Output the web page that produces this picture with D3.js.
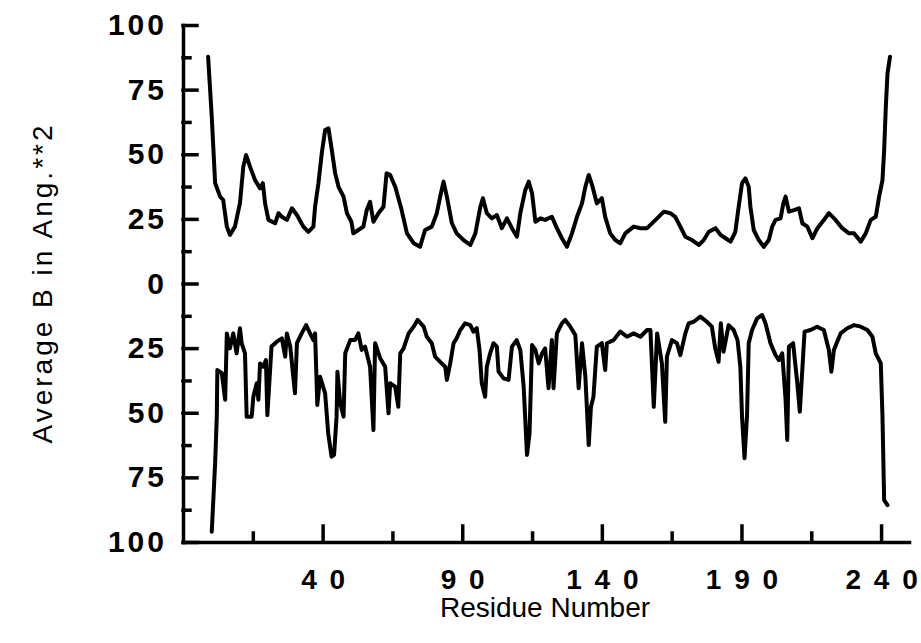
<!DOCTYPE html>
<html>
<head>
<meta charset="utf-8">
<script src="https://cdn.jsdelivr.net/npm/d3@7"></script>
<style>
  body { margin: 0; background: #fff; }
  svg { display: block; }
</style>
</head>
<body>
<script>
// residue numbers and average B, upper trace
var topResidue = [-1.0,0.3,1.5,3.3,4.4,5.7,6.8,8.6,10.4,11.6,12.6,14,15.8,17.6,18.6,19.4,20.6,23,24.2,25.4,27.2,29,30.8,33.1,34.9,36.7,37.3,38.5,39.7,40.9,42.1,43.3,44.5,45.7,47.5,48.7,50.3,51,52.8,54.6,55.8,57,58.2,60,61.8,62.9,64.2,66,68.3,70.2,72.6,74.9,
  76.7,79.1,80.9,82.1,83.3,84.5,86.3,88,90.5,92.9,94.7,96.5,97.4,98.8,100.6,102.4,104.2,106,107.8,109.6,110.8,112.6,113.8,115,116.2,118,119.7,122.1,123.9,125.7,127.5,129.3,131.1,132.9,134.1,135.3,136.5,138.2,140,141.2,143,144.8,146.6,148.4,151.4,153.8,156.2,
  159.8,162.2,164.5,166.3,168.1,169.9,172.3,174.7,176.5,178.3,180.7,182.5,184.3,186.1,187.8,189,190.2,191.4,192.6,193.2,194.4,196.2,198,199.8,201,202.2,204,205,205.8,207,208.8,210.6,211.8,213.6,215.4,217.2,219.5,221.3,223.7,226.1,228.5,230.3,232.7,234.5,236.3,238.1,239.3,240.5,241.1,241.7,242.3,243.2];
var topB = [87.7,64.5,38.9,33.6,32.3,22.0,18.8,22,31.1,45.2,49.7,45.2,40,36.8,38.8,31,24.6,23.3,27.2,25.8,24.6,29.1,26.5,22,20,22,29.7,38.8,50.4,59.4,60,51.6,42.6,37.4,33.6,27.2,23.9,19.4,20.7,22,28.4,31.6,23.9,27.2,29.7,42.6,42,37.4,28.4,19.4,15.6,14.2,
  20.7,22,27.2,33.6,39.4,33.6,23.3,19.4,16.8,14.9,19.4,29.7,33,27.2,25.2,26.5,21.4,25.2,21.4,18.1,27.2,36.2,39.4,34.9,23.9,25.2,24.6,25.8,21.4,17.5,14.2,19.4,25.8,31,37.4,42,38.1,31,33,25.8,19.4,16.8,15.6,19.4,22,21.4,21.4,
  25.2,27.8,27.2,25.8,22,18.1,16.8,14.9,16.8,20,21.4,18.8,17.5,16.2,20,29.7,38.8,40.7,37.4,29.7,20.7,16.8,14.2,16.8,22,24.6,25.2,31,33.6,27.8,28.4,29.1,23.3,22,17.5,21.4,24.6,27.2,24.6,21.4,19.4,19.4,16.2,19.4,24.6,25.8,33.6,40,51.6,68.4,81.3,87.7];

// residue numbers and average B, lower trace (drawn downward)
var bottomResidue = [0.3,1.5,2.1,2.3,3.9,5.1,5.7,6.8,8,9.2,10.4,11,12.2,12.8,14.6,15.2,16.4,17,17.6,18.8,19.7,20.2,20.9,21.7,23.6,25.4,26.6,27.2,28.4,30.1,30.8,32.5,34.1,35.5,36.7,37.3,38.1,39.1,40.9,42,43.2,44.1,45,45.3,46.3,47.5,48.1,49.9,51.6,52.8,54,55.2,57,58.2,58.8,60.6,62.4,63.6,64.2,66,67.1,67.8,69,70.8,72.6,74,76.2,
  77.3,79.1,80.3,82.1,83.9,84.5,85.7,86.9,88,89.3,91,92.9,94,95.2,96.2,97,98.2,98.8,100,101.2,102.4,103,104.8,106.6,107.8,109.5,110.8,112,113.2,114.1,115,116.2,117.4,118.6,119.7,120.9,122.1,122.7,123.9,125.7,126.9,128.7,130.5,131.7,132.9,134.1,135.3,136.1,137,138.2,140,141.2,141.8,144.2,146.6,149,151.4,153.8,156.2,
  157.4,158.6,159.8,161.5,162.7,163.3,165.1,166.9,168.1,169.9,171.1,172.9,175.3,177.6,179.4,180.6,181.8,182.6,183.6,185.4,187.2,188.6,189.6,190.2,191.1,192,192.6,193.8,195.6,197.4,198.6,200.4,202.2,203.4,204.6,205.8,206.4,207,208.5,210,210.9,212.1,212.6,214.7,217.1,219.5,221.3,222.2,223.1,225.5,227.9,230.3,232.7,235.1,236.9,238.1,239.9,240.5,241.1,242.3];
var bottomB = [96,69.6,51.5,33.5,34.7,45,19.3,25.1,19.3,27,17.3,23.1,27,51.5,51.5,43.8,38.6,45,30.9,32.2,29.6,50.9,38.6,24.4,22.5,21.2,28.3,19.3,24.4,42.5,23.1,19.3,16.1,19.3,21.9,19.3,47,36.1,42.5,57.9,67,66.3,51.5,34.1,46.3,51.5,27,21.9,21.9,19.3,25.7,24.4,32.2,56.7,23.1,28.9,32.2,50.2,38.6,39.9,47.7,27,25.1,19.3,16.7,14.1,16.7,
  20.6,23.1,28.3,30.3,32.2,37.3,30.9,23.1,21.2,18,15.4,16.1,18.6,17.3,25.7,38.6,43.8,32.2,27,23.1,24.4,34.1,36.7,37.3,24.4,21.9,25.7,39.9,66.3,57.9,23.8,25.7,30.9,27,25.1,40.5,21.9,40.5,19.3,15.4,14.1,16.7,19.9,40.5,23.1,36.1,62.5,47.7,43.8,24.4,23.1,33.5,23.1,21.9,18.6,20.6,19.3,20.6,18,
  18,47.7,19.3,30.9,53.5,28.3,21.9,23.1,27.7,19.3,15.4,14.8,12.8,14.8,16.7,25.1,30.3,15.4,26.4,16.1,18,21.9,32.2,51.5,67.6,50.9,23.1,18,13.5,12.2,15.4,23.1,27.7,29.6,27,45,60.5,24.4,23.1,38.6,49.6,27.7,18.6,18,16.7,18,25.7,34.1,25.7,19.3,17.3,16.1,16.7,18,20.6,27,30.9,51.5,83.8,85.7];

// tick values
var xMajor = [40, 90, 140, 190, 240];
var xMinor = [15, 65, 115, 165, 215];
var yMajor = [-100, -75, -50, -25, 0, 25, 50, 75, 100];
var yMinor = [-87.5, -62.5, -37.5, -12.5, 12.5, 37.5, 62.5, 87.5];

var width = 921, height = 643;
var margin = {top: 25, right: 12, bottom: 101, left: 183};
var font = "'Liberation Sans', Arial, Helvetica, sans-serif";

var svg = d3.select("body").append("svg")
    .attr("width", width)
    .attr("height", height);

var x = d3.scaleLinear()
    .domain([-10, 250])
    .range([margin.left, width - margin.right]);

// lower half is plotted as negative values, labels show the magnitude
var y = d3.scaleLinear()
    .domain([-100, 100])
    .range([height - margin.bottom, margin.top]);

var ink = "#000";

// y axis, ticks pointing inward
var yAxis = svg.append("g")
    .attr("transform", "translate(" + margin.left + ",0)")
    .call(d3.axisLeft(y)
      .tickValues(yMajor)
      .tickSize(-14)
      .tickSizeOuter(0)
      .tickPadding(16)
      .tickFormat(function(d) { return Math.abs(d); }));

svg.append("g")
    .attr("transform", "translate(" + margin.left + ",0)")
    .call(d3.axisLeft(y).tickValues(yMinor).tickSize(-7).tickFormat(""))
    .select(".domain").remove();

// x axis, digits spread apart like "1 4 0"
var xAxis = svg.append("g")
    .attr("transform", "translate(0," + (height - margin.bottom) + ")")
    .call(d3.axisBottom(x)
      .tickValues(xMajor)
      .tickSize(-16)
      .tickSizeOuter(0)
      .tickPadding(27)
      .tickFormat(function(d) { return String(d).split("").join(" "); }));

svg.append("g")
    .attr("transform", "translate(0," + (height - margin.bottom) + ")")
    .call(d3.axisBottom(x).tickValues(xMinor).tickSize(-9).tickFormat(""))
    .select(".domain").remove();

svg.selectAll(".domain, .tick line")
    .attr("stroke", ink)
    .attr("stroke-width", 3.5)
    .attr("stroke-linecap", "square");

yAxis.selectAll("text")
    .attr("fill", ink)
    .style("font-family", font)
    .style("font-weight", "bold")
    .style("font-size", "30px")
    .style("letter-spacing", "3px");

xAxis.selectAll("text")
    .attr("fill", ink)
    .style("font-family", font)
    .style("font-weight", "bold")
    .style("font-size", "28px")
    .style("word-spacing", "5px");

// the two traces
var line = d3.line()
    .x(function(d) { return x(d[0]); })
    .y(function(d) { return y(d[1]); });

var upper = topResidue.map(function(r, i) { return [r, topB[i]]; });
var lower = bottomResidue.map(function(r, i) { return [r, -bottomB[i]]; });

svg.selectAll(".trace")
    .data([upper, lower])
  .enter().append("path")
    .attr("class", "trace")
    .attr("d", line)
    .attr("fill", "none")
    .attr("stroke", ink)
    .attr("stroke-width", 4)
    .attr("stroke-linejoin", "round")
    .attr("stroke-linecap", "round");

// axis titles
svg.append("text")
    .attr("x", 545)
    .attr("y", 617)
    .attr("text-anchor", "middle")
    .attr("fill", ink)
    .style("font-family", font)
    .style("font-size", "28px")
    .text("Residue Number");

svg.append("text")
    .attr("transform", "translate(52,283) rotate(-90)")
    .attr("text-anchor", "middle")
    .attr("fill", ink)
    .style("font-family", font)
    .style("font-size", "28px")
    .style("letter-spacing", "3px")
    .text("Average B in Ang.**2");
</script>
</body>
</html>
